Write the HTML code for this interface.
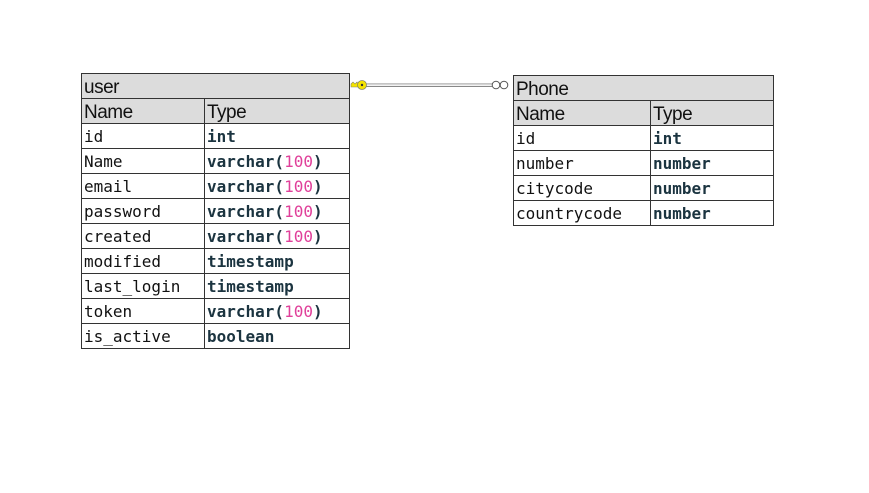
<!DOCTYPE html>
<html><head><style>
body{margin:0;width:869px;height:493px;background:#fff;position:relative;overflow:hidden}
.c{position:absolute;box-sizing:border-box;border:1px solid #333;overflow:hidden;white-space:nowrap}
.h{background:#dcdcdc;font-family:"Liberation Sans",sans-serif;font-size:19px;line-height:23px;padding-left:2px;padding-top:2px;color:#111;letter-spacing:-0.5px}
.n{font-family:"DejaVu Sans Mono","Liberation Mono",monospace;font-size:16px;line-height:22px;padding-left:2px;padding-top:2px;color:#111}
.t{font-family:"DejaVu Sans Mono","Liberation Mono",monospace;font-size:16px;line-height:22px;padding-left:2px;padding-top:2px;color:#1b3440;font-weight:bold}
.p{color:#e0409a;font-weight:normal}
</style></head><body>
<!-- user -->
<div class="c h" style="left:81px;top:73px;width:269px;height:26px">user</div>
<div class="c h" style="left:81px;top:98px;width:124px;height:26px">Name</div>
<div class="c h" style="left:204px;top:98px;width:146px;height:26px">Type</div>
<div id="u"></div>
<!-- phone -->
<div class="c h" style="left:513px;top:75px;width:261px;height:26px">Phone</div>
<div class="c h" style="left:513px;top:100px;width:138px;height:26px">Name</div>
<div class="c h" style="left:650px;top:100px;width:124px;height:26px">Type</div>
<script>
var u=[["id","int"],["Name","varchar(100)"],["email","varchar(100)"],["password","varchar(100)"],["created","varchar(100)"],["modified","timestamp"],["last_login","timestamp"],["token","varchar(100)"],["is_active","boolean"]];
var p=[["id","int"],["number","number"],["citycode","number"],["countrycode","number"]];
function t(s){return s.replace("(100)",'(<span class="p">100</span>)');}
var h="";
u.forEach(function(r,i){var y=123+25*i;
h+='<div class="c n" style="left:81px;top:'+y+'px;width:124px;height:26px">'+r[0]+'</div>';
h+='<div class="c t" style="left:204px;top:'+y+'px;width:146px;height:26px">'+t(r[1])+'</div>';});
p.forEach(function(r,i){var y=125+25*i;
h+='<div class="c n" style="left:513px;top:'+y+'px;width:138px;height:26px">'+r[0]+'</div>';
h+='<div class="c t" style="left:650px;top:'+y+'px;width:124px;height:26px">'+r[1]+'</div>';});
document.getElementById("u").outerHTML=h;
</script>
<svg style="position:absolute;left:0;top:0" width="869" height="493">
<line x1="366" y1="84" x2="492" y2="84" stroke="#888" stroke-width="1"/>
<line x1="366" y1="86.5" x2="492" y2="86.5" stroke="#888" stroke-width="1"/>
<line x1="366" y1="85" x2="492" y2="85" stroke="#eee" stroke-width="1.5"/>
<path d="M351 84 L353 82 L355 84 L357 82 L358 84 L358 87 L351 87 Z" fill="#f5e400" stroke="#886" stroke-width="0.6"/>
<circle cx="362" cy="85" r="4.5" fill="#f5e400" stroke="#886" stroke-width="0.8"/>
<circle cx="362" cy="85" r="1.2" fill="#333"/>
<circle cx="496" cy="85" r="3.8" fill="#fff" stroke="#555" stroke-width="1"/>
<circle cx="504" cy="85" r="3.8" fill="#fff" stroke="#555" stroke-width="1"/>
</svg>
</body></html>
